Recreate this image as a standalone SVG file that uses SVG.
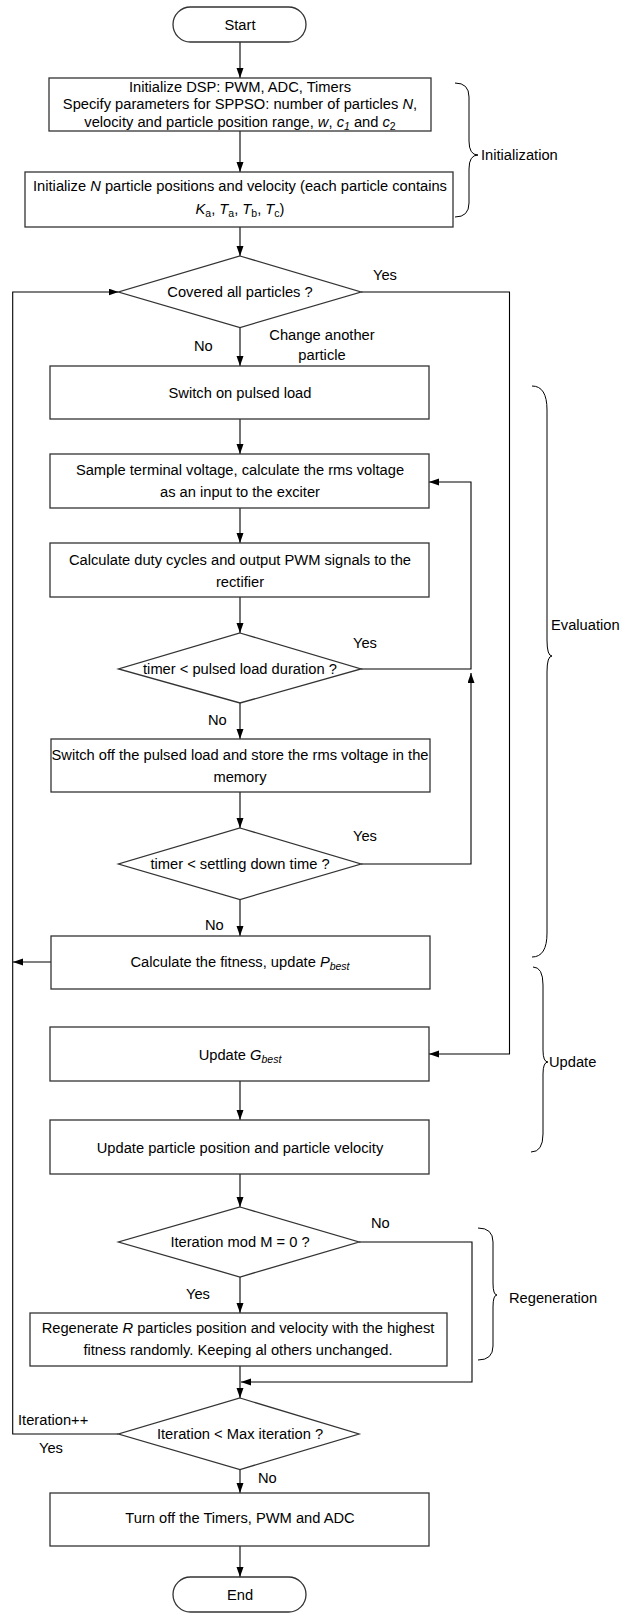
<svg xmlns="http://www.w3.org/2000/svg" width="621" height="1613" viewBox="0 0 621 1613">
<defs>
<style>
text{font-family:"Liberation Sans",Arial,sans-serif;font-size:14.7px;fill:#000}
.c{text-anchor:middle}
.box{fill:#fff;stroke:#333;stroke-width:1.3}
.ln{fill:none;stroke:#000;stroke-width:1.1}
.br{fill:none;stroke:#000;stroke-width:1}
.i{font-style:italic}
.s{font-size:10.5px}
</style>
<marker id="a" markerUnits="userSpaceOnUse" markerWidth="11" markerHeight="8" refX="10" refY="3.5" orient="auto">
<path d="M0,0 L10,3.5 L0,7 z" fill="#000"/>
</marker>
</defs>

<g id="connectors">
<path class="ln" d="M240,42 V78" marker-end="url(#a)"/>
<path class="ln" d="M240,131 V172" marker-end="url(#a)"/>
<path class="ln" d="M240,227 V256" marker-end="url(#a)"/>
<path class="ln" d="M240,327.5 V366" marker-end="url(#a)"/>
<path class="ln" d="M240,419 V454" marker-end="url(#a)"/>
<path class="ln" d="M240,508 V543" marker-end="url(#a)"/>
<path class="ln" d="M240,597 V633" marker-end="url(#a)"/>
<path class="ln" d="M240,703 V739" marker-end="url(#a)"/>
<path class="ln" d="M240,792 V828" marker-end="url(#a)"/>
<path class="ln" d="M240,899.5 V936" marker-end="url(#a)"/>
<path class="ln" d="M51,962 H13" marker-end="url(#a)"/>
<path class="ln" d="M240,1081 V1120" marker-end="url(#a)"/>
<path class="ln" d="M240,1174 V1207" marker-end="url(#a)"/>
<path class="ln" d="M240,1277 V1313" marker-end="url(#a)"/>
<path class="ln" d="M240,1366 V1398" marker-end="url(#a)"/>
<path class="ln" d="M359,1242 H472 V1382 H241" marker-end="url(#a)"/>
<path class="ln" d="M118.5,1434 H12.7 V292 H118.5" marker-end="url(#a)"/>
<path class="ln" d="M361,292 H509.5 V1054 H429" marker-end="url(#a)"/>
<path class="ln" d="M361,669 H471 V482 H429" marker-end="url(#a)"/>
<path class="ln" d="M361,864 H471 V673" marker-end="url(#a)"/>
<path class="ln" d="M240,1469.5 V1493" marker-end="url(#a)"/>
<path class="ln" d="M240,1546 V1577" marker-end="url(#a)"/>
</g>

<g id="start">
<rect class="box" x="173" y="7" width="133" height="35" rx="17.5"/>
<text class="c" x="240" y="29.5">Start</text>
</g>

<g id="init-dsp">
<rect class="box" x="49" y="78" width="382" height="53"/>
<text class="c" x="240" y="91.5">Initialize DSP: PWM, ADC, Timers</text>
<text class="c" x="240" y="109">Specify parameters for SPPSO: number of particles  <tspan class="i">N</tspan>,</text>
<text class="c" x="240" y="126.5">velocity and particle position range, <tspan class="i">w</tspan>, <tspan class="i">c</tspan><tspan class="s i" dy="3">1</tspan><tspan dy="-3"> and </tspan><tspan class="i">c</tspan><tspan class="s" dy="3">2</tspan></text>
</g>

<g id="init-n">
<rect class="box" x="25" y="172" width="428" height="55"/>
<text class="c" x="240" y="191">Initialize <tspan class="i">N</tspan> particle positions and velocity (each particle contains</text>
<text class="c" x="240" y="214"><tspan class="i">K</tspan><tspan class="s" dy="3">a</tspan><tspan dy="-3">, </tspan><tspan class="i">T</tspan><tspan class="s" dy="3">a</tspan><tspan dy="-3">, </tspan><tspan class="i">T</tspan><tspan class="s" dy="3">b</tspan><tspan dy="-3">, </tspan><tspan class="i">T</tspan><tspan class="s" dy="3">c</tspan><tspan dy="-3">)</tspan></text>
</g>

<g id="covered">
<polygon class="box" points="240,256 361,292 240,327.5 118.5,292"/>
<text class="c" x="240" y="297">Covered all particles ?</text>
</g>

<g id="switch-on">
<rect class="box" x="50" y="366" width="379" height="53"/>
<text class="c" x="240" y="397.5">Switch on pulsed load</text>
</g>

<g id="sample">
<rect class="box" x="50" y="454" width="379" height="54"/>
<text class="c" x="240" y="475">Sample terminal voltage, calculate the rms voltage</text>
<text class="c" x="240" y="497">as an input to the exciter</text>
</g>

<g id="duty">
<rect class="box" x="50" y="543" width="379" height="54"/>
<text class="c" x="240" y="565">Calculate duty cycles and output PWM signals to the</text>
<text class="c" x="240" y="587">rectifier</text>
</g>

<g id="timer-pulsed">
<polygon class="box" points="240,633 361,669 240,703 118.5,669"/>
<text class="c" x="240" y="674">timer &lt; pulsed load duration ?</text>
</g>

<g id="switch-off">
<rect class="box" x="51" y="739" width="379" height="53"/>
<text class="c" x="240" y="760">Switch off the pulsed load and store the rms voltage in the</text>
<text class="c" x="240" y="782">memory</text>
</g>

<g id="timer-settling">
<polygon class="box" points="240,828 361,864 240,899.5 118.5,864"/>
<text class="c" x="240" y="869">timer &lt; settling down time ?</text>
</g>

<g id="fitness">
<rect class="box" x="51" y="936" width="379" height="53"/>
<text class="c" x="240" y="967">Calculate the fitness, update <tspan class="i">P</tspan><tspan class="s i" dy="3">best</tspan></text>
</g>

<g id="gbest">
<rect class="box" x="50" y="1027" width="379" height="54"/>
<text class="c" x="240" y="1060">Update <tspan class="i">G</tspan><tspan class="s i" dy="3">best</tspan></text>
</g>

<g id="update-particle">
<rect class="box" x="50" y="1120" width="379" height="54"/>
<text class="c" x="240" y="1153">Update particle position and particle velocity</text>
</g>

<g id="mod">
<polygon class="box" points="240,1207 359,1242 240,1277 118.5,1242"/>
<text class="c" x="240" y="1247">Iteration mod M = 0 ?</text>
</g>

<g id="regenerate">
<rect class="box" x="30" y="1313" width="417" height="53"/>
<text class="c" x="238" y="1333">Regenerate <tspan class="i">R</tspan> particles position and velocity with the highest</text>
<text class="c" x="238" y="1355">fitness randomly. Keeping al others unchanged.</text>
</g>

<g id="max-iter">
<polygon class="box" points="240,1398 359,1434 240,1469.5 118.5,1434"/>
<text class="c" x="240" y="1439">Iteration &lt; Max iteration ?</text>
</g>

<g id="turn-off">
<rect class="box" x="50" y="1493" width="379" height="53"/>
<text class="c" x="240" y="1523">Turn off the Timers, PWM and ADC</text>
</g>

<g id="end">
<rect class="box" x="173" y="1577" width="133" height="35" rx="17.5"/>
<text class="c" x="240" y="1600">End</text>
</g>

<g id="labels">
<text x="373" y="280">Yes</text>
<text x="194" y="351">No</text>
<text class="c" x="322" y="340">Change another</text>
<text class="c" x="322" y="360">particle</text>
<text x="353" y="648">Yes</text>
<text x="208" y="725">No</text>
<text x="353" y="841">Yes</text>
<text x="205" y="930">No</text>
<text x="371" y="1228">No</text>
<text x="186" y="1299">Yes</text>
<text x="18" y="1425">Iteration++</text>
<text x="39" y="1453">Yes</text>
<text x="258" y="1483">No</text>
</g>

<g id="brace-initialization">
<path class="br" d="M455,83 Q469,83 469,97 V141 Q469,155 478,155 Q469,155 469,169 V203 Q469,217 455,217"/>
<text x="481" y="160">Initialization</text>
</g>
<g id="brace-evaluation">
<path class="br" d="M532,386 Q547,386 547,410 V640 Q547,656 552,656 Q547,656 547,672 V933 Q547,957 532,957"/>
<text x="551" y="630">Evaluation</text>
</g>
<g id="brace-update">
<path class="br" d="M533,967 Q543,967 543,985 V1050 Q543,1062 548,1062 Q543,1062 543,1074 V1134 Q543,1152 531,1152"/>
<text x="549" y="1067">Update</text>
</g>
<g id="brace-regeneration">
<path class="br" d="M478,1228 Q493,1228 493,1242 V1283 Q493,1295 497,1295 Q493,1295 493,1307 V1346 Q493,1360 478,1360"/>
<text x="509" y="1303">Regeneration</text>
</g>
</svg>
